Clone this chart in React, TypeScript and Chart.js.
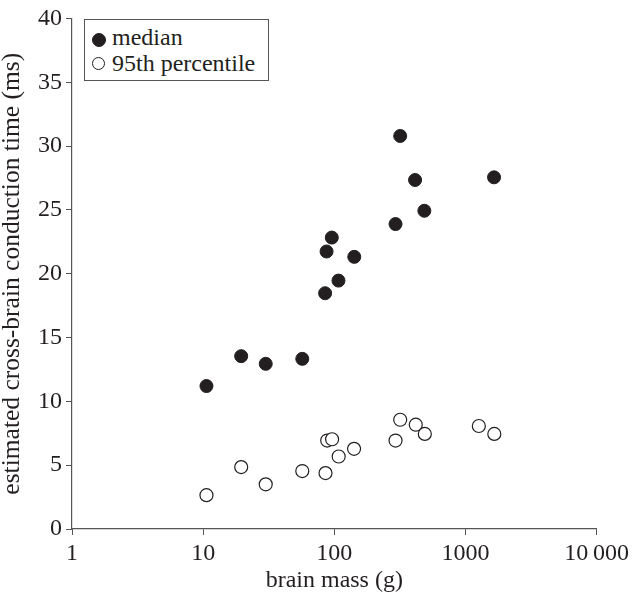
import React, { useEffect, useRef } from "react";
import { Chart, registerables } from "chart.js";

Chart.register(...registerables);

// Data (brain mass in g, conduction time in ms)
const medianMass = [10.6, 19.5, 30, 57, 85.1, 87.3, 95.7, 107.6, 142, 293, 318, 413, 486, 1652];
const medianTime = [11.2, 13.54, 12.94, 13.33, 18.47, 21.74, 22.83, 19.46, 21.32, 23.89, 30.79, 27.34, 24.93, 27.55];
const p95Mass = [10.6, 19.5, 30, 57, 85.7, 88.3, 96.2, 108, 141.5, 293, 318, 418, 490, 1265, 1660];
const p95Time = [2.65, 4.85, 3.5, 4.54, 4.38, 6.93, 7.03, 5.68, 6.28, 6.93, 8.56, 8.17, 7.45, 8.07, 7.45];

const xTickValues = [1, 10, 100, 1000, 10000];
const xTickLabels = ["1", "10", "100", "1000", "10\u2009000"];
const yTickValues = [0, 5, 10, 15, 20, 25, 30, 35, 40];

const seriesNames = ["median", "95th percentile"];
const xTitle = "brain mass (g)";
const yTitle = "estimated cross-brain conduction time (ms)";

const INK = "#231f20";
const AXIS = "#555555";
const FONT = "'Liberation Serif', 'Times New Roman', serif";

export default function App() {
  const canvasRef = useRef<HTMLCanvasElement | null>(null);

  useEffect(() => {
    document.body.style.margin = "0";
    const canvas = canvasRef.current;
    if (!canvas) return;
    const chart = new Chart(canvas, {
      type: "scatter",
      data: {
        datasets: [
          {
            label: seriesNames[0],
            data: medianMass.map((m, i) => ({ x: m, y: medianTime[i] })),
            backgroundColor: INK,
            borderColor: INK,
            borderWidth: 1,
            pointRadius: 6.5,
          },
          {
            label: seriesNames[1],
            data: p95Mass.map((m, i) => ({ x: m, y: p95Time[i] })),
            backgroundColor: "#ffffff",
            borderColor: INK,
            borderWidth: 1.2,
            pointRadius: 6.5,
          },
        ],
      },
      options: {
        animation: false,
        responsive: false,
        maintainAspectRatio: false,
        layout: { padding: { top: 15, right: 34, left: 0, bottom: 0 } },
        plugins: { legend: { display: false }, tooltip: { enabled: false } },
        scales: {
          x: {
            type: "logarithmic",
            min: 1,
            max: 10000,
            afterBuildTicks: (scale: any) => {
              scale.ticks = xTickValues.map((v) => ({ value: v }));
            },
            afterFit: (scale: any) => {
              scale.height = 65;
            },
            ticks: {
              autoSkip: false,
              maxRotation: 0,
              color: INK,
              padding: 4,
              font: { family: FONT, size: 24 },
              callback: (_v: any, i: number) => xTickLabels[i],
            },
            grid: { drawOnChartArea: false, drawTicks: true, tickLength: 6, color: AXIS },
            border: { color: AXIS, width: 1.2 },
            title: {
              display: true,
              text: xTitle,
              color: INK,
              font: { family: FONT, size: 24, lineHeight: 1.1 },
              padding: { top: 0, bottom: 0 },
            },
          },
          y: {
            type: "linear",
            min: 0,
            max: 40,
            afterBuildTicks: (scale: any) => {
              scale.ticks = yTickValues.map((v) => ({ value: v }));
            },
            afterFit: (scale: any) => {
              scale.width = 72;
            },
            ticks: {
              color: INK,
              padding: 4,
              font: { family: FONT, size: 24 },
            },
            grid: { drawOnChartArea: false, drawTicks: true, tickLength: 6, color: AXIS },
            border: { color: AXIS, width: 1.2 },
            title: {
              display: true,
              text: yTitle,
              color: INK,
              font: { family: FONT, size: 25.5, lineHeight: 1.0 },
              padding: { top: 0, bottom: 0 },
            },
          },
        },
      },
    });
    return () => chart.destroy();
  }, []);

  const dot = (filled: boolean, top: number): React.CSSProperties => ({
    position: "absolute",
    left: 7,
    top,
    width: filled ? 14 : 13,
    height: filled ? 14 : 13,
    boxSizing: "border-box",
    borderRadius: "50%",
    border: `1.2px solid ${INK}`,
    background: filled ? INK : "#fff",
  });

  return (
    <div style={{ position: "relative", width: 633, height: 594 }}>
      <canvas ref={canvasRef} width={633} height={594} style={{ display: "block", width: 633, height: 594 }} />
      <div
        style={{
          position: "absolute",
          left: 84,
          top: 19,
          width: 185,
          height: 62,
          boxSizing: "border-box",
          border: `1.2px solid ${AXIS}`,
          background: "#fff",
          fontFamily: FONT,
          fontSize: 24,
          color: INK,
        }}
      >
        <span style={dot(true, 13)} />
        <div style={{ position: "absolute", left: 27, top: 3, lineHeight: "28px", whiteSpace: "nowrap" }}>{seriesNames[0]}</div>
        <span style={dot(false, 37)} />
        <div style={{ position: "absolute", left: 27, top: 29, lineHeight: "28px", whiteSpace: "nowrap" }}>{seriesNames[1]}</div>
      </div>
    </div>
  );
}
